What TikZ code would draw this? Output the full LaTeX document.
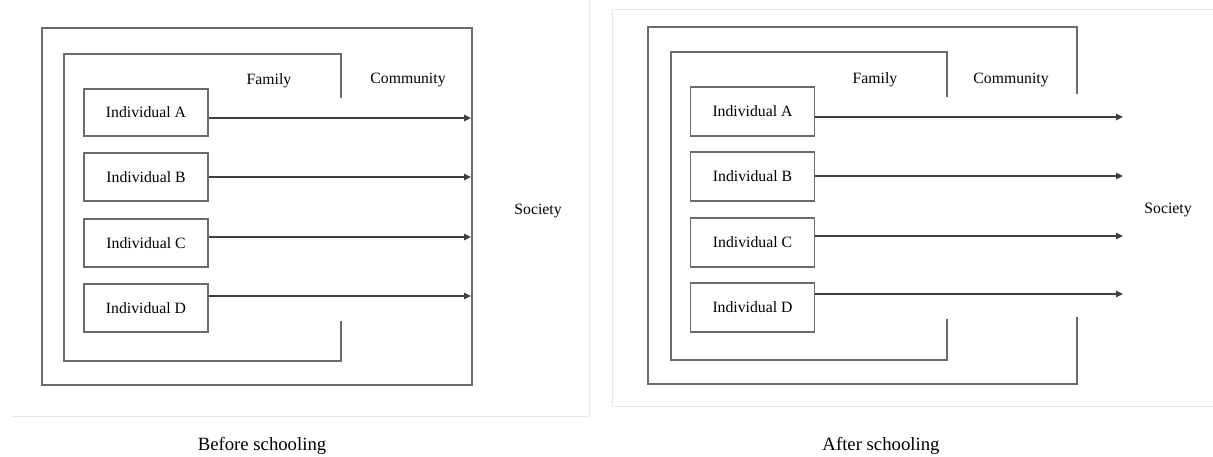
\documentclass[tikz,border=0pt]{standalone}
\usepackage{fontspec}
\setmainfont{Liberation Serif}
\usetikzlibrary{arrows.meta}
\begin{document}
\begin{tikzpicture}[x=1bp,y=-1bp,
  wall/.style={draw=black!58,line width=1.1bp},
  frame/.style={draw=black!9,line width=0.8bp},
  person/.style={wall,minimum width=124bp,inner sep=0pt,font=\fontsize{15.8}{18}\selectfont},
  lbl/.style={font=\fontsize{15.8}{18}\selectfont,inner sep=0pt},
  captiontext/.style={font=\fontsize{18.8}{22}\selectfont,inner sep=0pt},
  flow/.style={draw=black!75,line width=1.1bp,-{Triangle[length=7bp,width=6.5bp]}}]
\useasboundingbox (0,0) rectangle (1213,457);
\fill[white] (0,0) rectangle (1213,457);

% ---------- before schooling ----------
\draw[frame] (589,0) -- (589,416) -- (11,416);
\draw[wall] (42,28) rectangle (472,385);
\draw[wall] (341,98) -- (341,54) -- (64,54) -- (64,361) -- (341,361) -- (341,321);
\node[person,minimum height=47bp] (lA) at (146,112.5) {Individual A};
\node[person,minimum height=48bp] (lB) at (146,177) {Individual B};
\node[person,minimum height=48bp] (lC) at (146,243) {Individual C};
\node[person,minimum height=48bp] (lD) at (146,308) {Individual D};
\node[lbl] (lfam) at (269,81) {Family};
\node[lbl] (lcom) at (408,80) {Community};
\node[lbl] (lsoc) at (538,211) {Society};
\coordinate (lsA) at (471,118);
\coordinate (lsB) at (471,177);
\coordinate (lsC) at (471,237);
\coordinate (lsD) at (471,296);
\foreach \p in {A,B,C,D}
  \draw[flow] (l\p.east |- ls\p) -- (ls\p);
\node[captiontext] (lcap) at (262,446) {Before schooling};

% ---------- after schooling ----------
\draw[frame] (1213,9) -- (612,9) -- (612,406) -- (1213,406);
\draw[wall] (1077,94) -- (1077,27) -- (648,27) -- (648,384) -- (1077,384) -- (1077,317);
\draw[wall] (947,97) -- (947,52) -- (671,52) -- (671,360) -- (947,360) -- (947,319);
\node[person,minimum height=49bp] (rA) at (752.5,111.5) {Individual A};
\node[person,minimum height=49bp] (rB) at (752.5,176.5) {Individual B};
\node[person,minimum height=49bp] (rC) at (752.5,242.5) {Individual C};
\node[person,minimum height=49bp] (rD) at (752.5,307.5) {Individual D};
\node[lbl] (rfam) at (875,80) {Family};
\node[lbl] (rcom) at (1011,80) {Community};
\node[lbl] (rsoc) at (1168,210) {Society};
\coordinate (rsA) at (1123,117);
\coordinate (rsB) at (1123,176);
\coordinate (rsC) at (1123,236);
\coordinate (rsD) at (1123,294);
\foreach \p in {A,B,C,D}
  \draw[flow] (r\p.east |- rs\p) -- (rs\p);
\node[captiontext] (rcap) at (881,446) {After schooling};
\end{tikzpicture}
\end{document}
